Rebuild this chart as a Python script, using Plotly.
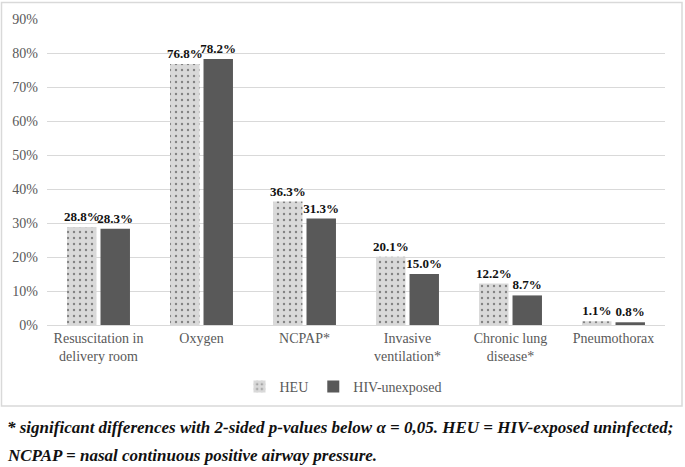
import plotly.graph_objects as go

categories = ["Resuscitation in<br>delivery room", "Oxygen", "NCPAP*", "Invasive<br>ventilation*",
              "Chronic lung<br>disease*", "Pneumothorax"]
heu = [28.8, 76.8, 36.3, 20.1, 12.2, 1.1]
unexposed = [28.3, 78.2, 31.3, 15.0, 8.7, 0.8]
y_ticks = [0, 10, 20, 30, 40, 50, 60, 70, 80, 90]

FONT = "Liberation Serif, Times New Roman, DejaVu Serif, serif"

fig = go.Figure()
fig.add_trace(go.Bar(
    x=categories, y=[v / 100 for v in heu], name="HEU",
    marker=dict(color="#d9d9d9", line=dict(width=0),
                pattern=dict(shape=".", fgcolor="#2a2a2a", bgcolor="#d9d9d9", size=6, solidity=0.12)),
    text=[f"{v:.1f}%" for v in heu], textposition="outside", constraintext="none",
    textfont=dict(family=FONT, size=13, color="#111111"), texttemplate="<b>%{text}</b>",
    cliponaxis=False,
))
fig.add_trace(go.Bar(
    x=categories, y=[v / 100 for v in unexposed], name="HIV-unexposed",
    marker=dict(color="#595959", line=dict(width=0)),
    text=[f"{v:.1f}%" for v in unexposed], textposition="outside", constraintext="none",
    textfont=dict(family=FONT, size=13, color="#111111"), texttemplate="<b>%{text}</b>",
    cliponaxis=False,
))

L, R, T, B = 47, 685 - 665, 19, 467 - 325
PW, PH = 685 - L - R, 467 - T - B

def px(x):
    return (x - L) / PW

def py(y):
    return (325 - y) / PH

fig.update_layout(
    width=685, height=467,
    margin=dict(l=L, r=R, t=T, b=B, pad=0, autoexpand=False),
    paper_bgcolor="white", plot_bgcolor="white",
    barmode="group", bargap=0.35, bargroupgap=0.12,
    font=dict(family=FONT, size=14, color="#595959"),
    showlegend=True,
    legend=dict(orientation="h", x=px(343), xanchor="center", y=py(387), yanchor="middle",
                font=dict(family=FONT, size=14, color="#595959"), itemwidth=30,
                traceorder="normal", bgcolor="rgba(0,0,0,0)"),
    xaxis=dict(showgrid=False, showline=True, linecolor="#d9d9d9", linewidth=1,
               ticks="", tickfont=dict(family=FONT, size=14, color="#595959")),
    yaxis=dict(range=[0, 0.9], tickvals=[t / 100 for t in y_ticks],
               ticktext=[f"{t}%" for t in y_ticks], showgrid=True, gridcolor="#d9d9d9",
               gridwidth=1, zeroline=False, ticks="", ticklabelstandoff=8,
               tickfont=dict(family=FONT, size=14, color="#595959")),
    shapes=[dict(type="rect", xref="paper", yref="paper",
                 x0=px(1.5), x1=px(682), y0=py(406), y1=py(2.5),
                 line=dict(color="#d9d9d9", width=1.5), layer="below")],
    annotations=[
        dict(text="<b><i>* significant differences with 2-sided p-values below α = 0,05. HEU = HIV-exposed uninfected;</i></b>",
             xref="paper", yref="paper", x=px(5), y=py(427), xanchor="left", yanchor="middle",
             showarrow=False, font=dict(family=FONT, size=17, color="#111111")),
        dict(text="<b><i>NCPAP = nasal continuous positive airway pressure.</i></b>",
             xref="paper", yref="paper", x=px(5), y=py(455), xanchor="left", yanchor="middle",
             showarrow=False, font=dict(family=FONT, size=17, color="#111111")),
    ],
)

fig.write_html("out.html", config={"displayModeBar": False},
               post_script="document.body.style.margin='0';document.body.style.overflow='hidden';")
